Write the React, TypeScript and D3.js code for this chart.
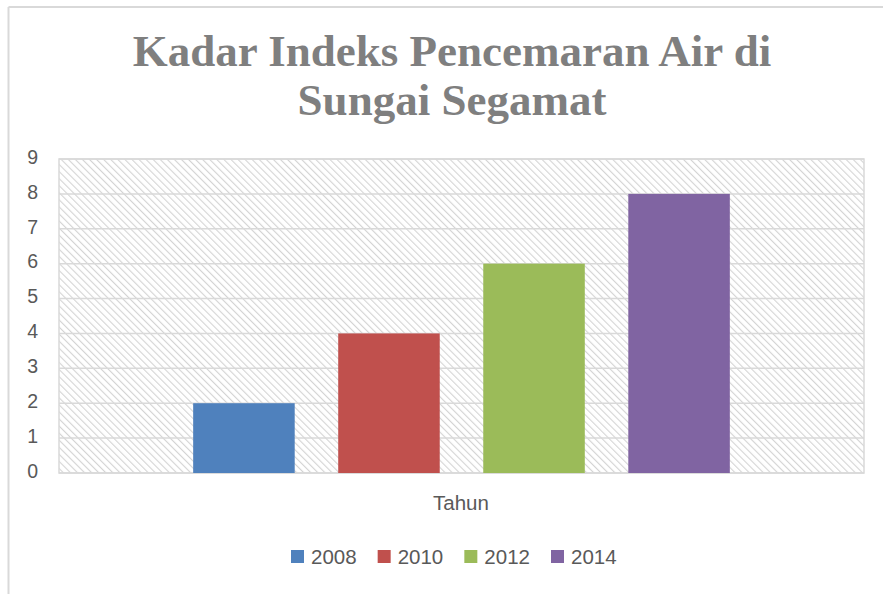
import React from "react";
import * as d3 from "d3";

const titleLines = ["Kadar Indeks Pencemaran Air di", "Sungai Segamat"];
const category = "Tahun";
const seriesNames = ["2008", "2010", "2012", "2014"];
const seriesValues = [2, 4, 6, 8];
const seriesColors = ["#4f81bd", "#c0504d", "#9bbb59", "#8064a2"];
const yTicks = [0, 1, 2, 3, 4, 5, 6, 7, 8, 9];

const W = 883;
const H = 594;
const plot = { left: 59, right: 864, top: 159, bottom: 473 };

export default function App() {
  const y = d3.scaleLinear().domain([0, 9]).range([plot.bottom, plot.top]);
  const x = d3
    .scaleBand<string>()
    .domain(seriesNames)
    .range([plot.left, plot.right])
    .paddingInner(0.3)
    .paddingOuter(0.925);

  const legendX = d3.scalePoint<string>().domain(seriesNames).range([291, 551]);

  return (
    <svg
      width={W}
      height={H}
      style={{ position: "absolute", left: 0, top: 0, background: "#fff" }}
    >
      <defs>
        <pattern
          id="hatch"
          patternUnits="userSpaceOnUse"
          width={5}
          height={5}
          patternTransform="rotate(-45)"
        >
          <rect width={5} height={5} fill="#ffffff" />
          <line x1={0} y1={0} x2={0} y2={5} stroke="#d4d4d4" strokeWidth={2.2} />
        </pattern>
      </defs>
      <rect x={0} y={0} width={W} height={H} fill="#fff" />
      {/* chart border */}
      <line x1={8.5} y1={7} x2={W} y2={7} stroke="#d9d9d9" strokeWidth={2} />
      <line x1={8.5} y1={7} x2={8.5} y2={H} stroke="#d9d9d9" strokeWidth={2} />

      {/* title */}
      {titleLines.map((t, i) => (
        <text
          key={i}
          x={452}
          y={66 + i * 49}
          textAnchor="middle"
          fontFamily="'Liberation Serif', serif"
          fontWeight="bold"
          fontSize={45}
          fill="#7f7f7f"
        >
          {t}
        </text>
      ))}

      {/* plot area */}
      <rect
        x={plot.left}
        y={plot.top}
        width={plot.right - plot.left}
        height={plot.bottom - plot.top}
        fill="url(#hatch)"
        stroke="#d9d9d9"
        strokeWidth={1.5}
      />
      {yTicks.map((t) => (
        <line
          key={t}
          x1={plot.left}
          x2={plot.right}
          y1={y(t)}
          y2={y(t)}
          stroke="#d9d9d9"
          strokeWidth={1.5}
        />
      ))}
      {yTicks.map((t) => (
        <text
          key={"l" + t}
          x={38}
          y={y(t) - 2}
          dy="0.35em"
          textAnchor="end"
          fontFamily="'Liberation Sans', Arial, sans-serif"
          fontSize={19.5}
          fill="#595959"
        >
          {t}
        </text>
      ))}

      {/* bars */}
      {seriesNames.map((s, i) => (
        <rect
          key={s}
          x={x(s)}
          y={y(seriesValues[i])}
          width={x.bandwidth()}
          height={y(0) - y(seriesValues[i])}
          fill={seriesColors[i]}
        />
      ))}

      {/* category label */}
      <text
        x={461}
        y={510}
        textAnchor="middle"
        fontFamily="'Liberation Sans', Arial, sans-serif"
        fontSize={20.5}
        fill="#595959"
      >
        {category}
      </text>

      {/* legend */}
      {seriesNames.map((s, i) => (
        <g key={"lg" + s} transform={`translate(${legendX(s)},0)`}>
          <rect x={0} y={550} width={13} height={13} fill={seriesColors[i]} />
          <text
            x={20}
            y={564}
            fontFamily="'Liberation Sans', Arial, sans-serif"
            fontSize={20.5}
            fill="#595959"
          >
            {s}
          </text>
        </g>
      ))}
    </svg>
  );
}
